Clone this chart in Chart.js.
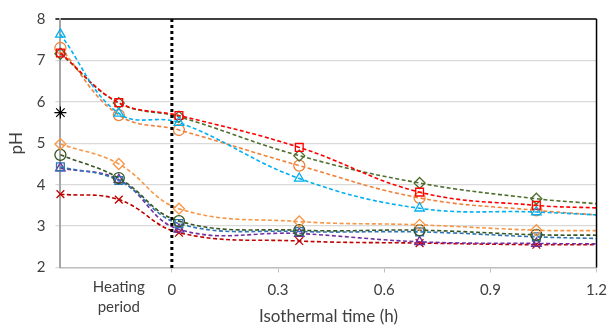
<!DOCTYPE html>
<html>
<head>
<meta charset="utf-8">
<script src="https://cdn.jsdelivr.net/npm/chart.js@4/dist/chart.umd.min.js"></script>
<style>
  html, body { margin: 0; padding: 0; background: #fff; }
  #wrap { width: 616px; height: 329px; }
</style>
</head>
<body>
<div id="wrap"><canvas id="phChart"></canvas></div>
<script>
// sampling times (h); negative values are the heating period, last one is the right edge
const tempos = [-0.315, -0.15, 0.02, 0.36, 0.7, 1.03, 1.2];
const xTicks = [0, 0.3, 0.6, 0.9, 1.2];
const yTicks = [2, 3, 4, 5, 6, 7, 8];
const fimAquecimento = 0;     // end of heating (dotted line)
const posRotuloAquec = -0.15; // where "Heating period" sits

// upper group
const azulTri   = [7.63, 5.72, 5.50, 4.15, 3.43, 3.34, 3.27];
const vermQuad  = [7.18, 5.98, 5.67, 4.90, 3.82, 3.50, 3.44];
const verdeLos  = [7.16, 5.97, 5.64, 4.70, 4.04, 3.66, 3.54];
const laranjaCirc = [7.30, 5.68, 5.32, 4.46, 3.68, 3.38, 3.27];
// lower group
const laranjaLos = [4.98, 4.50, 3.42, 3.11, 3.03, 2.90, 2.89];
const verdeCirc  = [4.72, 4.16, 3.12, 2.90, 2.90, 2.79, 2.78];
const azulQuad   = [4.43, 4.10, 3.06, 2.87, 2.86, 2.74, 2.70];
const roxoTri    = [4.40, 4.12, 2.92, 2.82, 2.62, 2.58, 2.57];
const vermX      = [3.77, 3.64, 2.84, 2.64, 2.59, 2.55, 2.55];
// single point at start
const asterisco = [5.74];

const fonte = 'Lato, "Open Sans", sans-serif';

function pontos(valores) {
  return valores.map(function (v, i) { return { x: tempos[i], y: v }; });
}

function serie(valores, cor, estilo) {
  return {
    data: pontos(valores),
    borderColor: cor,
    backgroundColor: 'transparent',
    borderWidth: 1.6,
    borderDash: [4, 2.5],
    tension: 0.4,
    pointStyle: estilo,
    pointRadius: valores.map(function (v, i) { return i === valores.length - 1 ? 0 : 5.5; }),
    pointBorderWidth: 1.3,
    pointBorderColor: cor,
    pointBackgroundColor: 'transparent',
    clip: false
  };
}

const linhaPontilhada = {
  id: 'linhaPontilhada',
  afterDatasetsDraw(chart) {
    const ctx = chart.ctx;
    const x = chart.scales.x.getPixelForValue(fimAquecimento);
    const area = chart.chartArea;
    ctx.save();
    ctx.strokeStyle = '#000';
    ctx.lineWidth = 3;
    ctx.setLineDash([3, 3]);
    ctx.beginPath();
    ctx.moveTo(x, area.top);
    ctx.lineTo(x, area.bottom + 3);
    ctx.stroke();
    ctx.setLineDash([]);
    // right border
    ctx.lineWidth = 1.5;
    ctx.beginPath();
    ctx.moveTo(area.right, area.top);
    ctx.lineTo(area.right, area.bottom);
    ctx.stroke();
    // heating period label
    const xr = chart.scales.x.getPixelForValue(posRotuloAquec);
    ctx.fillStyle = '#404040';
    ctx.font = '15px ' + fonte;
    ctx.textAlign = 'center';
    ctx.textBaseline = 'middle';
    ctx.fillText('Heating', xr, area.bottom + 20);
    ctx.fillText('period', xr, area.bottom + 40);
    ctx.restore();
  }
};

new Chart(document.getElementById('phChart'), {
  type: 'line',
  data: {
    datasets: [
      serie(azulTri, '#00B0F0', 'triangle'),
      serie(vermQuad, '#FF0000', 'rect'),
      serie(verdeLos, '#4F6F2F', 'rectRot'),
      serie(laranjaCirc, '#F0823C', 'circle'),
      serie(laranjaLos, '#F79646', 'rectRot'),
      serie(verdeCirc, '#375623', 'circle'),
      serie(azulQuad, '#2E75B6', 'rect'),
      serie(roxoTri, '#7030A0', 'triangle'),
      serie(vermX, '#C00000', 'crossRot'),
      {
        data: asterisco.map(function (v) { return { x: tempos[0], y: v }; }),
        showLine: false,
        pointStyle: 'star',
        pointRadius: 6,
        pointBorderWidth: 1.2,
        pointBorderColor: '#000',
        clip: false
      }
    ]
  },
  options: {
    responsive: true,
    maintainAspectRatio: false,
    animation: false,
    layout: { padding: { top: 19, right: 0, left: 3, bottom: 0 } },
    plugins: {
      legend: { display: false },
      tooltip: { enabled: false }
    },
    scales: {
      x: {
        type: 'linear',
        min: tempos[0],
        max: 1.2,
        afterBuildTicks: function (eixo) {
          eixo.ticks = xTicks.map(function (v) { return { value: v }; });
        },
        ticks: {
          color: '#404040',
          font: { family: fonte, size: 15 },
          padding: 9,
          maxRotation: 0,
          callback: function (v) { return String(v); }
        },
        grid: { drawOnChartArea: false, tickLength: 5, color: '#BFBFBF' },
        border: { color: '#BFBFBF', width: 1.5 },
        title: {
          display: true,
          text: 'Isothermal time (h)',
          color: '#404040',
          font: { family: fonte, size: 17, lineHeight: 1 },
          padding: { top: 0, bottom: 3.5 }
        }
      },
      y: {
        min: 2,
        max: 8,
        afterBuildTicks: function (eixo) {
          eixo.ticks = yTicks.map(function (v) { return { value: v }; });
        },
        ticks: {
          color: '#404040',
          font: { family: fonte, size: 15 },
          padding: 10
        },
        grid: {
          tickLength: 5,
          lineWidth: function (c) { return c.tick && c.tick.value === 8 ? 2 : 1.3; },
          color: function (c) { return c.tick && c.tick.value === 8 ? '#404040' : '#D9D9D9'; }
        },
        border: { color: '#A6A6A6', width: 2 },
        title: {
          display: true,
          text: 'pH',
          color: '#404040',
          font: { family: fonte, size: 17, lineHeight: 1 },
          padding: { top: 5.5, bottom: 1.2 }
        }
      }
    }
  },
  plugins: [linhaPontilhada]
});
</script>
</body>
</html>
